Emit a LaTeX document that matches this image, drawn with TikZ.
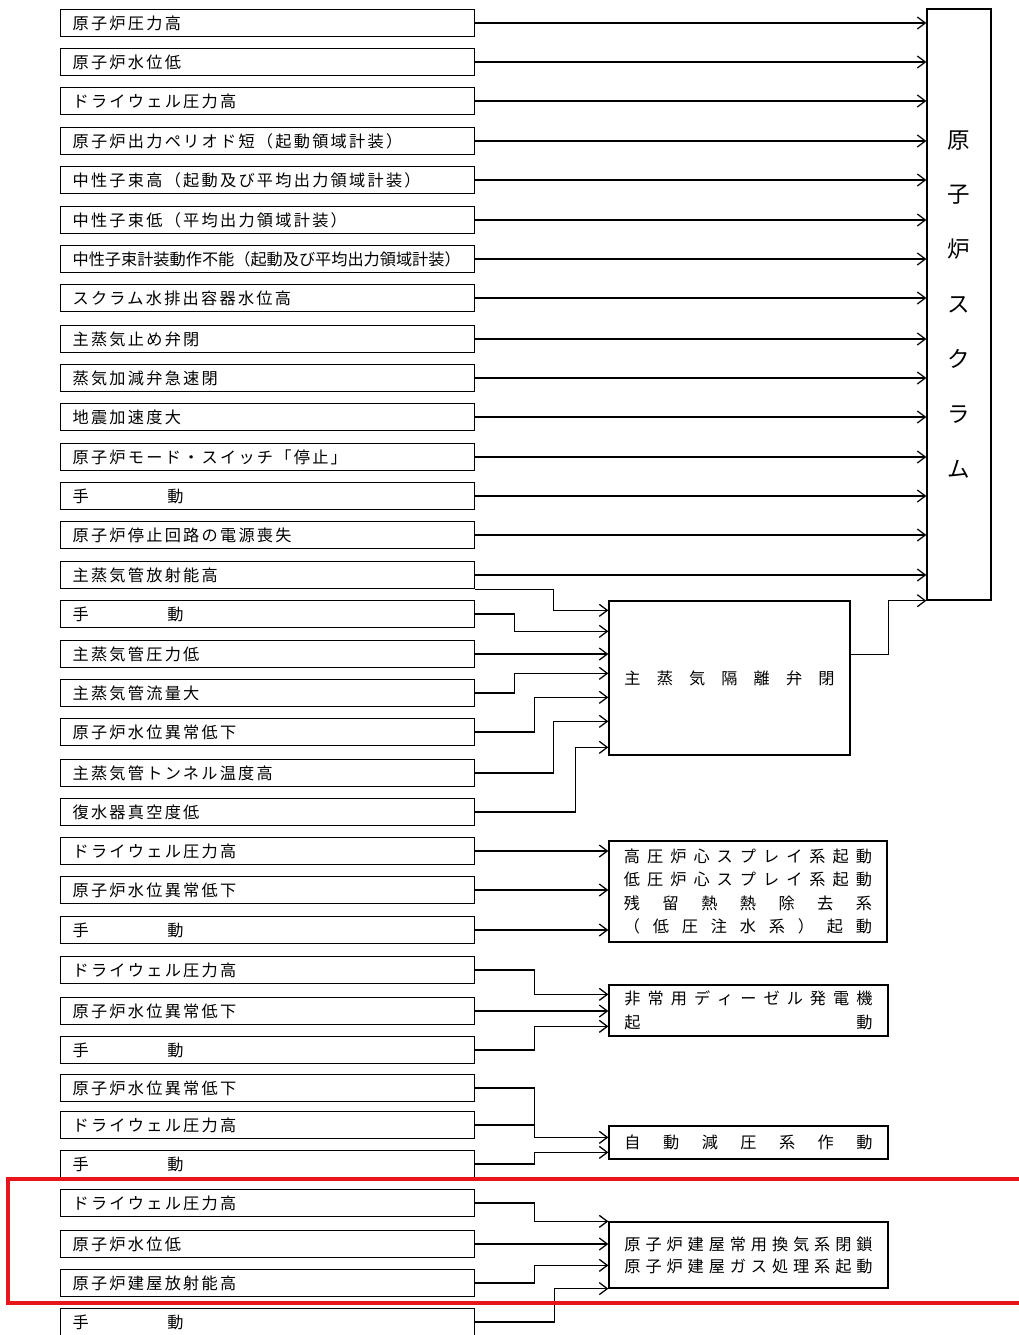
\documentclass[tikz,border=0pt]{standalone}
\usepackage{fontspec}
\setmainfont{Noto Sans CJK JP}
\newfontfamily\jpsp[LetterSpace=14]{Noto Sans CJK JP}
\usetikzlibrary{positioning,calc,arrows.meta}
\definecolor{markred}{HTML}{E8161A}
\newcommand\manual{\makebox[2.775cm][s]{手\hfill 動}}

\begin{document}
\begin{tikzpicture}[x=0.025cm,y=-0.025cm,
  lbox/.style={draw,line width=0.9pt,anchor=west,minimum width=10.35cm,minimum height=0.68cm,
    inner xsep=0.3cm,inner ysep=0pt,text width=9.75cm,align=left,font=\jpsp\fontsize{11.5pt}{14pt}\selectfont},
  rbox/.style={draw,line width=0.9pt,inner sep=0pt,align=center,font=\fontsize{11.5pt}{16.7pt}\selectfont},
  arr/.style={-{Straight Barb[length=2mm,width=3mm]},line width=0.9pt}]
\useasboundingbox (0,0) rectangle (1019,1335);
\foreach \i/\y/\t in {1/23/原子炉圧力高,2/62/原子炉水位低,3/101/ドライウェル圧力高,
  4/141/原子炉出力ペリオド短（起動領域計装）,5/180/中性子束高（起動及び平均出力領域計装）,
  6/220/中性子束低（平均出力領域計装）,7/259/{\setmainfont{Noto Sans CJK JP}\fontsize{11.5pt}{14pt}\selectfont 中性子束計装動作不能（起動及び平均出力領域計装）},
  8/298/スクラム水排出容器水位高,9/339/主蒸気止め弁閉,10/378/蒸気加減弁急速閉,11/417/地震加速度大,
  12/457/原子炉モード・スイッチ「停止」,13/496/\manual,14/535/原子炉停止回路の電源喪失,
  15/575/主蒸気管放射能高,16/614/\manual,17/654/主蒸気管圧力低,18/693/主蒸気管流量大,
  19/732/原子炉水位異常低下,20/773/主蒸気管トンネル温度高,21/812/復水器真空度低,
  22/851/ドライウェル圧力高,23/890/原子炉水位異常低下,24/930/\manual,
  25/970/ドライウェル圧力高,26/1011/原子炉水位異常低下,27/1050/\manual,
  28/1088/原子炉水位異常低下,29/1125/ドライウェル圧力高,30/1164/\manual,
  31/1203/ドライウェル圧力高,32/1244/原子炉水位低,33/1283/原子炉建屋放射能高,34/1322/\manual}{
  \node[lbox] (r\i) at (60,\y) {\t};
}
% targets
\node[draw,line width=0.9pt,minimum width=1.6cm,minimum height=14.775cm,align=center,
  font=\fontsize{16pt}{39.1pt}\selectfont] (scram) at (959,304.5) {原\\子\\炉\\ス\\ク\\ラ\\ム};
\node[rbox,minimum width=6.025cm,minimum height=3.85cm] (msiv) at (729.5,678)
  {\makebox[5.25cm][s]{主 蒸 気 隔 離 弁 閉}};
\node[rbox,minimum width=6.95cm,minimum height=2.525cm] (eccs) at (748,891.5)
  {\makebox[6.2cm][s]{高 圧 炉 心 ス プ レ イ 系 起 動}\\
   \makebox[6.2cm][s]{低 圧 炉 心 ス プ レ イ 系 起 動}\\
   \makebox[6.2cm][s]{残 留 熱 熱 除 去 系}\\
   \makebox[6.2cm][s]{（ 低 圧 注 水 系 ） 起 動}};
\node[rbox,minimum width=6.975cm,minimum height=1.275cm] (dg) at (748.5,1010.5)
  {\makebox[6.2cm][s]{非 常 用 デ ィ ー ゼ ル 発 電 機}\\
   \makebox[6.2cm][s]{起 動}};
\node[rbox,minimum width=6.975cm,minimum height=0.825cm] (ads) at (748.5,1142.5)
  {\makebox[6.2cm][s]{自 動 減 圧 系 作 動}};
\node[rbox,minimum width=6.975cm,minimum height=1.65cm,font=\fontsize{11.5pt}{15.6pt}\selectfont] (sgts) at (748.5,1255)
  {\makebox[6.2cm][s]{原 子 炉 建 屋 常 用 換 気 系 閉 鎖}\\
   \makebox[6.2cm][s]{原 子 炉 建 屋 ガ ス 処 理 系 起 動}};
% scram inputs
\foreach \i in {1,...,15}{
  \draw[arr] (r\i.east) -- (r\i.east -| scram.west);
}
\draw[arr] ($(msiv.north east)+(0,54)$) -- ++(38,0) |- (scram.south west);
% MSIV inputs
\draw[arr] (r15.south east) -- ++(78,0) |- ($(msiv.north west)+(0,10)$);
\draw[arr] (r16.east) -- ++(39,0) |- ($(msiv.north west)+(0,31)$);
\draw[arr] (r17.east) -- (r17.east -| msiv.west);
\draw[arr] (r18.east) -- ++(39,0) |- ($(msiv.north west)+(0,73)$);
\draw[arr] (r19.east) -- ++(59,0) |- ($(msiv.north west)+(0,97)$);
\draw[arr] (r20.east) -- ++(78,0) |- ($(msiv.north west)+(0,121)$);
\draw[arr] (r21.east) -- ++(100,0) |- ($(msiv.north west)+(0,147)$);
% ECCS
\foreach \i in {22,23,24}{
  \draw[arr] (r\i.east) -- (r\i.east -| eccs.west);
}
% DG
\draw[arr] (r25.east) -- ++(59,0) |- ($(dg.north west)+(0,10)$);
\draw[arr] (r26.east) -- (r26.east -| dg.west);
\draw[arr] (r27.east) -- ++(59,0) |- ($(dg.north west)+(0,42)$);
% ADS
\draw[arr] (r28.east) -- ++(59,0) |- ($(ads.north west)+(0,12)$);
\draw[line width=0.9pt] (r29.east) -- ++(59,0);
\draw[arr] (r30.east) -- ++(59,0) |- ($(ads.north west)+(0,27)$);
% SGTS
\draw[arr] (r31.east) -- ++(59,0) |- (sgts.north west);
\draw[arr] (r32.east) -- (r32.east -| sgts.west);
\draw[arr] (r33.east) -- ++(59,0) |- ($(sgts.north west)+(0,44)$);
\draw[arr] (r34.east) -- ++(79,0) |- (sgts.south west);
\draw[markred,line width=2.4pt] (1019,1179) -- (8,1179) -- (8,1303) -- (1019,1303);
\end{tikzpicture}
\end{document}
